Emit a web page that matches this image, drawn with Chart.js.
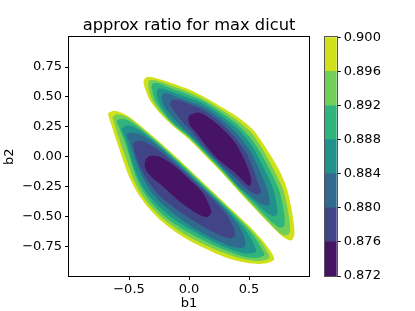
<!DOCTYPE html>
<html>
<head>
<meta charset="utf-8">
<script src="https://cdn.jsdelivr.net/npm/chart.js@4.4.1/dist/chart.umd.min.js"></script>
<style>
  body { margin: 0; background: #fff; }
  #wrap { position: relative; width: 415px; height: 311px; }
  #wrap canvas { position: absolute; left: 0; top: 0; }
</style>
</head>
<body>
<div id="wrap">
  <canvas id="main" width="415" height="311"></canvas>
  <canvas id="cbar" width="415" height="311"></canvas>
</div>
<script>
// approx ratio for max dicut — filled contours (viridis)

var xTicks = [-0.5, 0, 0.5];
var xTickLabels = ['\u22120.5', '0.0', '0.5'];
var yTicks = [-0.75, -0.5, -0.25, 0, 0.25, 0.5, 0.75];
var yTickLabels = ['\u22120.75', '\u22120.50', '\u22120.25', '0.00', '0.25', '0.50', '0.75'];

// contour levels and band colours (band i lies between levels[i] and levels[i+1])
var levels = [0.872, 0.876, 0.880, 0.884, 0.888, 0.892, 0.896, 0.900];
var bandColors = ['#471365', '#414487', '#306a8e', '#21918c', '#2fb47c', '#71cf57', '#d0e11c'];

// lower-left blob, one outline per level (b1, b2)
var lowerC900 = [[-0.676,0.364],[-0.62,0.385],[-0.5,0.335],[-0.3,0.17],[-0.1,-0.01],[0.1,-0.2],[0.3,-0.39],[0.5,-0.58],[0.62,-0.71],[0.68,-0.79],[0.71,-0.86],[0.672,-0.885],[0.589,-0.9],[0.478,-0.89],[0.339,-0.855],[0.2,-0.8],[0.061,-0.735],[-0.078,-0.655],[-0.217,-0.55],[-0.328,-0.44],[-0.425,-0.31],[-0.494,-0.18],[-0.55,-0.03],[-0.6,0.12],[-0.639,0.24],[-0.665,0.32]];
var lowerC896 = [[-0.638,0.333],[-0.6,0.356],[-0.5,0.322],[-0.3,0.16],[-0.1,-0.02],[0.1,-0.21],[0.3,-0.4],[0.5,-0.595],[0.6,-0.71],[0.65,-0.79],[0.672,-0.847],[0.64,-0.865],[0.57,-0.875],[0.47,-0.862],[0.339,-0.825],[0.2,-0.77],[0.061,-0.705],[-0.078,-0.625],[-0.217,-0.52],[-0.328,-0.41],[-0.41,-0.295],[-0.47,-0.17],[-0.52,-0.03],[-0.57,0.11],[-0.605,0.22],[-0.628,0.3]];
var lowerC892 = [[-0.605,0.297],[-0.57,0.318],[-0.5,0.3],[-0.3,0.15],[-0.1,-0.03],[0.1,-0.22],[0.3,-0.412],[0.5,-0.615],[0.57,-0.71],[0.61,-0.78],[0.63,-0.82],[0.6,-0.84],[0.53,-0.848],[0.44,-0.832],[0.32,-0.79],[0.2,-0.74],[0.061,-0.672],[-0.078,-0.592],[-0.217,-0.488],[-0.32,-0.38],[-0.395,-0.27],[-0.45,-0.15],[-0.49,-0.02],[-0.53,0.11],[-0.565,0.2],[-0.59,0.265]];
var lowerC888 = [[-0.563,0.236],[-0.52,0.258],[-0.45,0.245],[-0.3,0.137],[-0.1,-0.043],[0.1,-0.233],[0.3,-0.425],[0.45,-0.59],[0.52,-0.69],[0.55,-0.76],[0.56,-0.795],[0.53,-0.81],[0.46,-0.81],[0.37,-0.785],[0.26,-0.74],[0.13,-0.675],[0.0,-0.605],[-0.13,-0.52],[-0.25,-0.42],[-0.34,-0.32],[-0.405,-0.215],[-0.455,-0.1],[-0.495,0.03],[-0.525,0.14],[-0.55,0.205]];
var lowerC884 = [[-0.522,0.181],[-0.48,0.203],[-0.4,0.185],[-0.3,0.122],[-0.1,-0.057],[0.1,-0.247],[0.3,-0.442],[0.4,-0.56],[0.45,-0.65],[0.47,-0.72],[0.464,-0.755],[0.43,-0.765],[0.36,-0.755],[0.27,-0.72],[0.15,-0.66],[0.02,-0.585],[-0.1,-0.5],[-0.21,-0.41],[-0.3,-0.315],[-0.365,-0.215],[-0.415,-0.11],[-0.455,0.0],[-0.488,0.1],[-0.512,0.16]];
var lowerC880 = [[-0.467,0.111],[-0.42,0.133],[-0.35,0.115],[-0.25,0.052],[-0.1,-0.075],[0.05,-0.215],[0.2,-0.36],[0.3,-0.47],[0.36,-0.57],[0.385,-0.64],[0.38,-0.672],[0.34,-0.685],[0.27,-0.665],[0.17,-0.615],[0.05,-0.545],[-0.07,-0.465],[-0.17,-0.39],[-0.26,-0.31],[-0.33,-0.22],[-0.39,-0.12],[-0.43,-0.03],[-0.455,0.05]];
var lowerC876 = [[-0.361,-0.022],[-0.328,0.006],[-0.244,0.0],[-0.133,-0.069],[0.006,-0.194],[0.117,-0.306],[0.172,-0.417],[0.186,-0.472],[0.145,-0.506],[0.061,-0.472],[-0.078,-0.375],[-0.217,-0.25],[-0.328,-0.153],[-0.369,-0.083]];

// upper-right blob
var upperC900 = [[-0.38,0.625],[-0.369,0.655],[-0.34,0.67],[-0.272,0.657],[-0.161,0.622],[-0.022,0.572],[0.117,0.505],[0.256,0.425],[0.394,0.34],[0.533,0.225],[0.65,0.06],[0.75,-0.11],[0.81,-0.25],[0.845,-0.39],[0.872,-0.55],[0.878,-0.65],[0.855,-0.7],[0.811,-0.69],[0.756,-0.65],[0.672,-0.565],[0.561,-0.45],[0.422,-0.3],[0.283,-0.145],[0.144,0.0],[0.006,0.14],[-0.133,0.255],[-0.244,0.365],[-0.328,0.475],[-0.367,0.57]];
var upperC896 = [[-0.341,0.611],[-0.33,0.64],[-0.27,0.637],[-0.161,0.6],[-0.022,0.55],[0.117,0.485],[0.256,0.402],[0.394,0.31],[0.52,0.2],[0.59,0.1],[0.65,0.0],[0.775,-0.25],[0.815,-0.4],[0.838,-0.54],[0.842,-0.62],[0.825,-0.655],[0.79,-0.66],[0.74,-0.625],[0.66,-0.545],[0.561,-0.44],[0.422,-0.29],[0.283,-0.135],[0.144,0.01],[0.006,0.15],[-0.133,0.265],[-0.238,0.375],[-0.305,0.47],[-0.335,0.56]];
var upperC892 = [[-0.313,0.583],[-0.3,0.612],[-0.25,0.613],[-0.161,0.578],[-0.022,0.527],[0.117,0.465],[0.256,0.378],[0.394,0.278],[0.5,0.17],[0.56,0.09],[0.615,0.0],[0.74,-0.25],[0.78,-0.4],[0.797,-0.52],[0.795,-0.575],[0.785,-0.59],[0.755,-0.595],[0.71,-0.565],[0.645,-0.505],[0.55,-0.41],[0.422,-0.28],[0.283,-0.125],[0.144,0.02],[0.006,0.16],[-0.133,0.275],[-0.228,0.385],[-0.285,0.475],[-0.305,0.55]];
var upperC888 = [[-0.272,0.542],[-0.258,0.568],[-0.22,0.57],[-0.161,0.55],[-0.022,0.5],[0.117,0.445],[0.256,0.352],[0.394,0.242],[0.48,0.15],[0.53,0.08],[0.575,0.0],[0.695,-0.25],[0.73,-0.4],[0.738,-0.46],[0.73,-0.49],[0.7,-0.5],[0.655,-0.475],[0.6,-0.43],[0.52,-0.355],[0.422,-0.268],[0.283,-0.113],[0.144,0.032],[0.006,0.172],[-0.133,0.287],[-0.215,0.39],[-0.258,0.475]];
var upperC884 = [[-0.23,0.5],[-0.215,0.527],[-0.17,0.527],[-0.1,0.5],[-0.022,0.47],[0.117,0.418],[0.256,0.322],[0.394,0.2],[0.45,0.13],[0.495,0.07],[0.535,0.0],[0.645,-0.25],[0.672,-0.37],[0.67,-0.4],[0.64,-0.41],[0.58,-0.385],[0.5,-0.32],[0.422,-0.255],[0.283,-0.1],[0.144,0.045],[0.006,0.185],[-0.11,0.3],[-0.19,0.4],[-0.222,0.46]];
var upperC880 = [[-0.161,0.444],[-0.145,0.472],[-0.09,0.475],[-0.022,0.45],[0.117,0.39],[0.256,0.29],[0.394,0.15],[0.45,0.07],[0.495,0.0],[0.585,-0.25],[0.6,-0.3],[0.57,-0.318],[0.51,-0.29],[0.44,-0.232],[0.36,-0.15],[0.283,-0.082],[0.144,0.062],[0.03,0.2],[-0.06,0.3],[-0.13,0.39]];
var upperC876 = [[-0.008,0.319],[0.006,0.347],[0.089,0.367],[0.228,0.278],[0.367,0.139],[0.45,0.0],[0.506,-0.139],[0.52,-0.215],[0.5,-0.245],[0.45,-0.2],[0.367,-0.12],[0.256,-0.035],[0.145,0.09],[0.061,0.2],[0.006,0.264]];

// outline k (0..6) is filled with band colour k; bigger k is drawn first
var lowerOutlines = [lowerC876, lowerC880, lowerC884, lowerC888, lowerC892, lowerC896, lowerC900];
var upperOutlines = [upperC876, upperC880, upperC884, upperC888, upperC892, upperC896, upperC900];

var FONT = "'DejaVu Sans', sans-serif";

function outlineDataset(pts, k) {
    var data = pts.map(function (p) { return { x: p[0], y: p[1] }; });
    data.push({ x: pts[0][0], y: pts[0][1] });
    return {
        data: data,
        backgroundColor: bandColors[k],
        borderWidth: 0,
        pointRadius: 0,
        tension: 0.3,
        fill: 'shape',
        order: k + 1
    };
}

var datasets = [];
for (var k = 0; k < 7; k++) {
    datasets.push(outlineDataset(lowerOutlines[k], k));
    datasets.push(outlineDataset(upperOutlines[k], k));
}

var frame = {
    id: 'frame',
    afterDraw: function (chart) {
        var a = chart.chartArea, ctx = chart.ctx;
        ctx.save();
        ctx.strokeStyle = chart.options.frameColor || '#000';
        ctx.lineWidth = 1;
        ctx.strokeRect(Math.round(a.left) - 0.5, Math.round(a.top) - 0.5,
            Math.round(a.right - a.left) + 1, Math.round(a.bottom - a.top) + 1);
        ctx.restore();
    }
};

new Chart(document.getElementById('main'), {
    type: 'line',
    data: { datasets: datasets },
    plugins: [frame],
    options: {
        responsive: false,
        animation: false,
        events: [],
        layout: { padding: { left: 0, right: 106, top: 0, bottom: 0 } },
        plugins: {
            legend: { display: false },
            tooltip: { enabled: false },
            title: {
                display: true,
                text: 'approx ratio for max dicut',
                color: '#000',
                fullSize: false,
                font: { family: FONT, size: 16.3, weight: 'normal' },
                padding: { top: 15.5, bottom: 2.2 }
            }
        },
        scales: {
            x: {
                type: 'linear', min: -1, max: 1,
                afterBuildTicks: function (s) { s.ticks = xTicks.map(function (v) { return { value: v }; }); },
                afterFit: function (s) { s.height = 35; },
                ticks: {
                    color: '#000', padding: 2, maxRotation: 0,
                    font: { family: FONT, size: 13 },
                    callback: function (v, i) { return xTickLabels[i]; }
                },
                grid: { drawOnChartArea: false, tickLength: 4, color: '#000' },
                border: { display: false },
                title: { display: true, text: 'b1', color: '#000', padding: 0, font: { family: FONT, size: 13 } }
            },
            y: {
                type: 'linear', min: -1, max: 1,
                afterBuildTicks: function (s) { s.ticks = yTicks.map(function (v) { return { value: v }; }); },
                afterFit: function (s) { s.width = 69; },
                ticks: {
                    color: '#000', padding: 3,
                    font: { family: FONT, size: 13 },
                    callback: function (v, i) { return yTickLabels[i]; }
                },
                grid: { drawOnChartArea: false, tickLength: 4, color: '#000' },
                border: { display: false },
                title: { display: true, text: 'b2', color: '#000', padding: 2, font: { family: FONT, size: 13 } }
            }
        }
    }
});

// colour bar
var cbDatasets = bandColors.map(function (c, i) {
    return {
        data: [[levels[i], levels[i + 1]]],
        backgroundColor: c,
        borderWidth: 0,
        barPercentage: 1,
        categoryPercentage: 1,
        grouped: false
    };
});

new Chart(document.getElementById('cbar'), {
    type: 'bar',
    data: { labels: [''], datasets: cbDatasets },
    plugins: [frame],
    options: {
        responsive: false,
        animation: false,
        events: [],
        frameColor: '#555',
        layout: { padding: { left: 325, right: 0, top: 37.3, bottom: 35 } },
        plugins: { legend: { display: false }, tooltip: { enabled: false } },
        scales: {
            x: { display: false },
            y: {
                position: 'right', min: 0.872, max: 0.9,
                afterBuildTicks: function (s) { s.ticks = levels.map(function (v) { return { value: v }; }); },
                afterFit: function (s) { s.width = 78.3; },
                ticks: {
                    color: '#000', padding: 3,
                    font: { family: FONT, size: 13 },
                    callback: function (v) { return v.toFixed(3); }
                },
                grid: { drawOnChartArea: false, tickLength: 4, color: '#000' },
                border: { display: false }
            }
        }
    }
});
</script>
</body>
</html>
